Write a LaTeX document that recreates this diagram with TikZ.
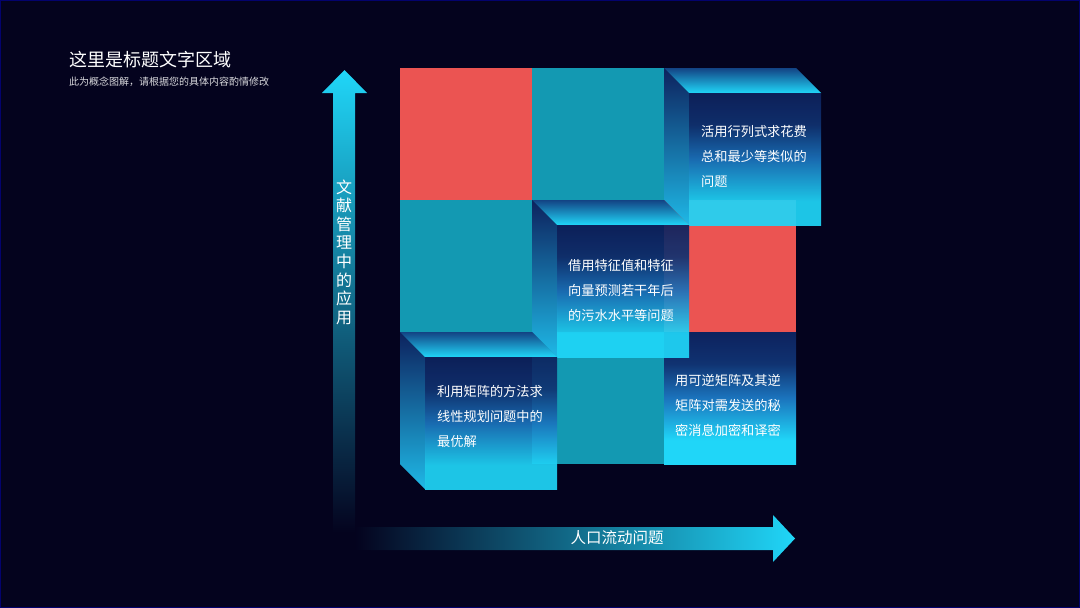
\documentclass[tikz,border=0pt]{standalone}
\usepackage{fontspec}
\newfontfamily\cjk{Noto Sans CJK SC}
\usetikzlibrary{positioning}

\definecolor{bgnavy}{HTML}{04031E}
\definecolor{cellred}{HTML}{EB5452}
\definecolor{cellteal}{HTML}{1399B2}
\definecolor{glowcyan}{HTML}{20D6F8}
\definecolor{midblue}{HTML}{1B74BD}
\definecolor{deepnavy}{HTML}{0D225E}

\pgfdeclareverticalshading{frontface}{100bp}{color(0bp)=(glowcyan); color(25bp)=(glowcyan);
  color(34bp)=(glowcyan); color(50bp)=(midblue); color(63bp)=(deepnavy!80!midblue);
  color(75bp)=(deepnavy); color(100bp)=(deepnavy)}

\begin{document}
\begin{tikzpicture}[
  x=1pt, y=-1pt,
  cell/.style={draw=none},
  face/.style={shading=frontface, fill opacity=.92},
  topface/.style={top color=midblue!40!deepnavy, bottom color=glowcyan},
  sideface/.style={top color=deepnavy, bottom color=glowcyan!70!midblue},
  cubetext/.style={text=white, font=\cjk\fontsize{13.2}{25}\selectfont,
    align=left, anchor=north west, inner sep=0pt}
]
  \useasboundingbox (0,0) rectangle (1080,608);
  \fill[bgnavy] (0,0) rectangle (1080,608);
  \draw[line width=1.2, blue!35!bgnavy] (.6,.6) rectangle (1079.4,607.4);

  % title
  \node[anchor=west, inner sep=0pt, text=white, font=\cjk\fontsize{18}{20}\selectfont]
    (title) at (69,60) {这里是标题文字区域};
  \node[anchor=west, inner sep=0pt, text=white!85!bgnavy, font=\cjk\fontsize{10}{12}\selectfont]
    (subtitle) at (69,82) {此为概念图解，请根据您的具体内容酌情修改};

  % axes
  \shade[top color=glowcyan, middle color=midblue, bottom color=bgnavy]
    (333,533) -- (333,93) -- (322,93) -- (344.5,70) -- (367,93) -- (355,93) -- (355,533) -- cycle;
  \shade[left color=bgnavy, middle color=midblue, right color=glowcyan]
    (355,527) -- (773,527) -- (773,515) -- (795,538.5) -- (773,562) -- (773,550) -- (355,550) -- cycle;
  \node[text=white, align=center, inner sep=0pt, font=\cjk\fontsize{16}{18.6}\selectfont]
    (yaxis) at (344,252) {文\\献\\管\\理\\中\\的\\应\\用};
  \node[text=white, inner sep=0pt, font=\cjk\fontsize{15.5}{18}\selectfont]
    (xaxis) at (617,538) {人口流动问题};

  % flat cells
  \fill[cell, cellred]  (400,68)  rectangle (532,200);
  \fill[cell, cellteal] (532,68)  rectangle (664,200);
  \fill[cell, cellteal] (400,200) rectangle (532,332);
  \fill[cell, cellred]  (664,200) rectangle (796,332);
  \fill[cell, cellteal] (532,332) rectangle (664,464);
  \shade[shading=frontface] (664,332) rectangle (796,464);

  % pulled-out cells
  \foreach \bx/\by in {664/68, 532/200, 400/332}{
    \shade[sideface] (\bx,\by) -- (\bx+25,\by+25) -- (\bx+25,\by+157) -- (\bx,\by+132) -- cycle;
    \shade[topface] (\bx,\by) -- (\bx+132,\by) -- (\bx+157,\by+25) -- (\bx+25,\by+25) -- cycle;
    \shade[face] (\bx+25,\by+25) rectangle (\bx+157,\by+157);
  }

  % texts
  \node[cubetext] (det) at (701,125) {活用行列式求花费\\总和最少等类似的\\问题};
  \node[cubetext] (eigen) at (568,259) {借用特征值和特征\\向量预测若干年后\\的污水水平等问题};
  \node[cubetext] (linprog) at (437,385) {利用矩阵的方法求\\线性规划问题中的\\最优解};
  \node[cubetext] (cipher) at (675,374) {用可逆矩阵及其逆\\矩阵对需发送的秘\\密消息加密和译密};
\end{tikzpicture}
\end{document}
